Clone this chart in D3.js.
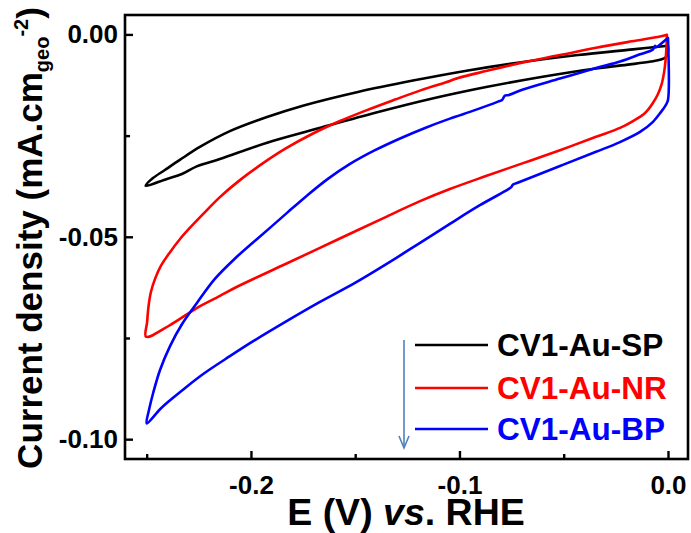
<!DOCTYPE html>
<html><head><meta charset="utf-8">
<script src="https://cdn.jsdelivr.net/npm/d3@7"></script>
<style>
body{margin:0;background:#fff}
svg{display:block}
text{font-family:"Liberation Sans",Arial,Helvetica,sans-serif;font-weight:bold}
</style>
</head><body>
<svg id="chart" width="691" height="533"></svg>
<script>
// ---- data ----
const xMajorTicks = [-0.2, -0.1, 0.0];
const xMinorTicks = [-0.25, -0.15, -0.05];
const yMajorTicks = [0.00, -0.05, -0.10];
const yMinorTicks = [-0.025, -0.075];
const xTickLabels = ["-0.2", "-0.1", "0.0"];
const yTickLabels = ["0.00", "-0.05", "-0.10"];
const seriesNames = ["CV1-Au-SP", "CV1-Au-NR", "CV1-Au-BP"];
const seriesColors = ["#000000", "#ff0000", "#0000ff"];

// CV1-Au-SP (black loop)
const spE = [0.0000,-0.0168,-0.0432,-0.0695,-0.0959,-0.1223,-0.1487,-0.1751,-0.1923,-0.2101,-0.2245,-0.2341,-0.2413,-0.2470,-0.2505,
             -0.2403,-0.2331,-0.2260,-0.2149,-0.1926,-0.1662,-0.1399,-0.1135,-0.0872,-0.0608,-0.0344,-0.0182,-0.0082,-0.0034,-0.0010,0.0000,0.0000];
const spJ = [-0.0028,-0.0037,-0.0051,-0.0068,-0.0089,-0.0114,-0.0142,-0.0176,-0.0204,-0.0239,-0.0278,-0.0310,-0.0335,-0.0355,-0.0374,
             -0.0357,-0.0345,-0.0326,-0.0308,-0.0268,-0.0230,-0.0193,-0.0159,-0.0130,-0.0105,-0.0084,-0.0074,-0.0067,-0.0062,-0.0056,-0.0043,-0.0028];

// CV1-Au-NR (red loop)
const nrE = [-0.0005,-0.0038,-0.0173,-0.0345,-0.0518,-0.0695,-0.0868,-0.1022,-0.1046,-0.1180,-0.1309,-0.1444,-0.1573,-0.1707,-0.1837,-0.1947,-0.2053,-0.2149,-0.2230,-0.2293,-0.2341,-0.2388,-0.2432,-0.2460,-0.2480,-0.2491,-0.2498,-0.2503,
             -0.2388,-0.2260,-0.2149,-0.2069,-0.1829,-0.1589,-0.1349,-0.1189,-0.1046,-0.0873,-0.0695,-0.0518,-0.0345,-0.0230,-0.0168,-0.0110,-0.0072,-0.0048,-0.0030,-0.0019,-0.0012,-0.0007,-0.0005];
const nrJ = [-0.0001,-0.0005,-0.0017,-0.0033,-0.0051,-0.0069,-0.0090,-0.0110,-0.0115,-0.0137,-0.0161,-0.0187,-0.0214,-0.0246,-0.0283,-0.0320,-0.0360,-0.0402,-0.0444,-0.0478,-0.0506,-0.0538,-0.0572,-0.0604,-0.0637,-0.0671,-0.0711,-0.0747,
             -0.0718,-0.0676,-0.0646,-0.0624,-0.0566,-0.0508,-0.0450,-0.0412,-0.0382,-0.0350,-0.0318,-0.0286,-0.0253,-0.0231,-0.0214,-0.0194,-0.0169,-0.0147,-0.0122,-0.0095,-0.0066,-0.0028,-0.0001];

// CV1-Au-BP (blue loop)
const bpE = [0.0000,-0.0029,-0.0058,-0.0062,-0.0072,-0.0134,-0.0230,-0.0345,-0.0518,-0.0695,-0.0767,-0.0782,-0.0796,-0.0815,-0.0926,-0.1046,-0.1165,-0.1285,-0.1405,-0.1525,-0.1631,-0.1733,-0.1823,-0.1909,-0.1990,-0.2069,-0.2173,-0.2260,-0.2331,-0.2388,-0.2436,-0.2469,-0.2489,-0.2500,
             -0.2436,-0.2388,-0.2317,-0.2229,-0.2101,-0.1989,-0.1837,-0.1669,-0.1501,-0.1349,-0.1189,-0.1046,-0.0902,-0.0767,-0.0753,-0.0743,-0.0724,-0.0518,-0.0345,-0.0230,-0.0134,-0.0072,-0.0034,-0.0010,0.0000,0.0000];
const bpJ = [-0.0009,-0.0021,-0.0032,-0.0028,-0.0037,-0.0049,-0.0067,-0.0083,-0.0109,-0.0136,-0.0150,-0.0151,-0.0162,-0.0166,-0.0187,-0.0208,-0.0231,-0.0257,-0.0286,-0.0320,-0.0357,-0.0399,-0.0439,-0.0478,-0.0514,-0.0550,-0.0604,-0.0664,-0.0716,-0.0770,-0.0829,-0.0886,-0.0928,-0.0961,
             -0.0926,-0.0904,-0.0874,-0.0839,-0.0795,-0.0758,-0.0711,-0.0661,-0.0614,-0.0567,-0.0515,-0.0468,-0.0422,-0.0383,-0.0378,-0.0371,-0.0367,-0.0325,-0.0290,-0.0266,-0.0241,-0.0216,-0.0192,-0.0174,-0.0162,-0.0009];

const seriesE = [spE, nrE, bpE];
const seriesJ = [spJ, nrJ, bpJ];

// ---- layout ----
const svg = d3.select("#chart");
const L = 125, R = 688, T = 15, B = 459;
const x = d3.scaleLinear().domain([-0.2604, 0.0096]).range([L, R]);
const y = d3.scaleLinear().domain([-0.1049, 0.0048]).range([B, T]);

// curves
const line = d3.line().x(d => x(d[0])).y(d => y(d[1])).curve(d3.curveCatmullRom.alpha(0.5));
seriesE.forEach((E, i) => {
  const pts = E.map((e, k) => [e, seriesJ[i][k]]);
  svg.append("path").attr("d", line(pts)).attr("fill", "none")
    .attr("stroke", seriesColors[i]).attr("stroke-width", 2.6)
    .attr("stroke-linejoin", "round").attr("stroke-linecap", "round");
});

// axes (inward ticks)
const yAxis = d3.axisLeft(y).tickValues(yMajorTicks).tickSize(-8).tickPadding(7)
  .tickFormat((d, i) => yTickLabels[i]);
const yAxisMinor = d3.axisLeft(y).tickValues(yMinorTicks).tickSize(-5).tickFormat("");
const xAxis = d3.axisBottom(x).tickValues(xMajorTicks).tickSize(-8).tickPadding(17)
  .tickFormat((d, i) => xTickLabels[i]);
const xAxisMinor = d3.axisBottom(x).tickValues(xMinorTicks).tickSize(-5).tickFormat("");

function styleAxis(g, fs) {
  g.select(".domain").remove();
  g.selectAll(".tick line").attr("stroke", "#000").attr("stroke-width", 2.4);
  g.selectAll(".tick text").attr("fill", "#000").style("font-size", fs + "px")
    .style("font-family", '"Liberation Sans", Arial, sans-serif').style("font-weight", "bold");
}
svg.append("g").attr("transform", `translate(${L},0)`).call(yAxis).call(g => styleAxis(g, 26));
svg.append("g").attr("transform", `translate(${L},0)`).call(yAxisMinor).call(g => styleAxis(g, 26));
svg.append("g").attr("transform", `translate(0,${B})`).call(xAxis).call(g => styleAxis(g, 26));
svg.append("g").attr("transform", `translate(0,${B})`).call(xAxisMinor).call(g => styleAxis(g, 26));

// frame
svg.append("rect").attr("x", L).attr("y", T).attr("width", R - L).attr("height", B - T)
  .attr("fill", "none").attr("stroke", "#000").attr("stroke-width", 2.6);

// legend
const legY = [345, 388, 429];
seriesNames.forEach((name, i) => {
  svg.append("line").attr("x1", 415).attr("x2", 488).attr("y1", legY[i]).attr("y2", legY[i])
    .attr("stroke", seriesColors[i]).attr("stroke-width", 2.6);
  svg.append("text").attr("x", 497).attr("y", legY[i] + 11).attr("fill", seriesColors[i])
    .style("font-size", "31.5px").text(name);
});

// arrow
const arrowX = 404;
svg.append("line").attr("x1", arrowX).attr("x2", arrowX).attr("y1", 340).attr("y2", 447)
  .attr("stroke", "#4f81bd").attr("stroke-width", 1.6);
svg.append("path").attr("d", `M${arrowX - 5},${436} L${arrowX},${448} L${arrowX + 5},${436}`)
  .attr("fill", "none").attr("stroke", "#4f81bd").attr("stroke-width", 1.6);

// y label
const yl = svg.append("text").attr("transform", "translate(42,238) rotate(-90)")
  .attr("text-anchor", "middle").style("font-size", "35px");
yl.append("tspan").text("Current density (mA.cm");
yl.append("tspan").attr("dy", 7).style("font-size", "20px").text("geo");
yl.append("tspan").attr("dy", -21).style("font-size", "20px").text("-2");
yl.append("tspan").attr("dy", 14).text(")");

// x label
const xl = svg.append("text").attr("x", 406).attr("y", 525).attr("text-anchor", "middle")
  .style("font-size", "37.5px");
xl.append("tspan").text("E (V) ");
xl.append("tspan").style("font-style", "italic").text("vs");
xl.append("tspan").text(". RHE");
</script>
</body></html>
